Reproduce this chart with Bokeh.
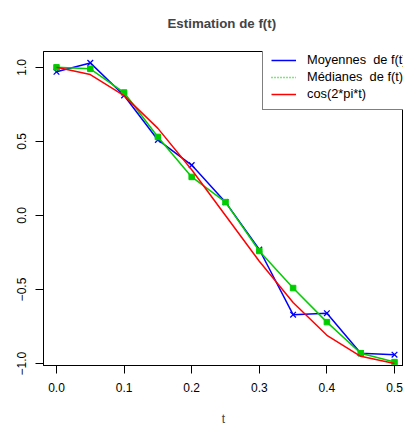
from bokeh.plotting import figure
from bokeh.models import Range1d, FixedTicker, Legend, LegendItem, ColumnDataSource
from bokeh.embed import file_html
from bokeh.resources import INLINE

t = [0.0, 0.05, 0.1, 0.15, 0.2, 0.25, 0.3, 0.35, 0.4, 0.45, 0.5]
moyennes = [0.97, 1.03, 0.81, 0.51, 0.34, 0.09, -0.23, -0.67, -0.66, -0.93, -0.94]
medianes = [1.00, 0.99, 0.83, 0.53, 0.26, 0.09, -0.24, -0.49, -0.72, -0.93, -0.99]
cos_ref = [1.0, 0.951, 0.809, 0.588, 0.309, 0.0, -0.309, -0.588, -0.809, -0.951, -1.0]
x_ticks = [0.0, 0.1, 0.2, 0.3, 0.4, 0.5]
x_labels = {0.0: "0.0", 0.1: "0.1", 0.2: "0.2", 0.3: "0.3", 0.4: "0.4", 0.5: "0.5"}
y_ticks = [-1.0, -0.5, 0.0, 0.5, 1.0]
y_labels = {-1.0: "\u22121.0", -0.5: "\u22120.5", 0.0: "0.0", 0.5: "0.5", 1.0: "1.0"}
legend_labels = ["Moyennes\u00a0 de f(t)", "M\u00e9dianes\u00a0 de f(t)", "cos(2*pi*t)"]
title_text = "Estimation de f(t)"

FONT = "Liberation Sans"

p = figure(width=403, height=428, output_backend="svg", toolbar_location=None,
           x_range=Range1d(-0.0192, 0.5133), y_range=Range1d(-1.013, 1.107),
           min_border_left=43, min_border_right=0, min_border_top=51, min_border_bottom=60)
p.background_fill_color = "white"
p.border_fill_color = "white"
p.outline_line_color = "black"
p.outline_line_width = 1
p.grid.visible = False

# trailing empty line gives the title box extra height below the text,
# lifting the visible line up while keeping the top panel within 51px
p.title.text = title_text + "\n"
p.title.text_font = FONT
p.title.text_font_size = "13.3px"
p.title.text_font_style = "bold"
p.title.align = "left"
p.title.vertical_align = "top"
p.title.offset = 124
p.title.standoff = 8

for ax in (p.xaxis[0], p.yaxis[0]):
    ax.axis_line_color = "black"
    ax.major_tick_line_color = "black"
    ax.major_tick_out = 8
    ax.major_tick_in = 0
    ax.minor_tick_line_color = None
    ax.major_label_text_font = FONT
    ax.major_label_text_font_size = "12px"
    ax.major_label_text_color = "black"
    ax.major_label_standoff = 9

p.xaxis.ticker = FixedTicker(ticks=x_ticks)
p.xaxis.major_label_overrides = x_labels
p.xaxis.axis_label = "t"
p.xaxis.axis_label_text_font = FONT
p.xaxis.axis_label_text_font_size = "12px"
p.xaxis.axis_label_text_font_style = "normal"
p.xaxis.axis_label_standoff = 17

p.yaxis.ticker = FixedTicker(ticks=y_ticks)
p.yaxis.major_label_overrides = y_labels
p.yaxis.major_label_orientation = "vertical"

src = ColumnDataSource(dict(t=t, moy=moyennes, med=medianes, cos=cos_ref))

blue = "#0000FF"
green = "#00CD00"
red = "#FF0000"

l_blue = p.line("t", "moy", source=src, line_color=blue, line_width=1.5)
p.scatter("t", "moy", source=src, marker="x", size=8, line_color=blue, line_width=1.3)
l_green = p.line("t", "med", source=src, line_color=green, line_width=1.5)
p.scatter("t", "med", source=src, marker="square", size=5.5, fill_color=green, line_color=green)
l_red = p.line("t", "cos", source=src, line_color=red, line_width=1.5)

# legend-only glyph for the dotted medians entry (no visible data)
nan = float("nan")
l_green_leg = p.line(x=[nan], y=[nan], line_color=green, line_width=1.5, line_dash="1 2")

legend = Legend(items=[LegendItem(label=legend_labels[0], renderers=[l_blue]),
                       LegendItem(label=legend_labels[1], renderers=[l_green_leg]),
                       LegendItem(label=legend_labels[2], renderers=[l_red])],
                location=(219, 255))
legend.border_line_color = "black"
legend.border_line_width = 1
legend.background_fill_color = "white"
legend.background_fill_alpha = 1
legend.padding = 8
legend.margin = 0
legend.spacing = 2
legend.glyph_height = 14
legend.label_height = 14
legend.glyph_width = 25
legend.label_standoff = 11
legend.label_text_font = FONT
legend.label_text_font_size = "12.8px"
legend.label_text_color = "black"
p.add_layout(legend, "center")

open("out.html", "w").write(file_html(p, INLINE))
